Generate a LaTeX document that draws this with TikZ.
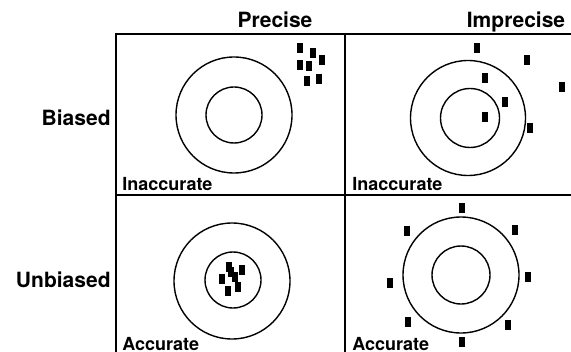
\documentclass[tikz,border=0pt]{standalone}
\usepackage{fontspec}
\setmainfont{TeX Gyre Heros}
\usepackage{tikz}
\usetikzlibrary{positioning}
\tikzset{
  wire/.style={line width=1.1pt,draw=black},
  ring/.style={circle,draw=black,line width=0.7pt,inner sep=0pt},
  shot/.style={rectangle,fill=black,inner sep=0pt,minimum width=3.4pt,minimum height=5.4pt},
  head/.style={font=\fontsize{10.5}{12}\selectfont\bfseries,inner sep=0pt},
  side/.style={font=\fontsize{10.5}{12}\selectfont\bfseries,inner sep=0pt,anchor=base east},
  corner/.style={font=\fontsize{9}{11}\selectfont\bfseries,inner sep=0pt,anchor=base west}
}
\begin{document}
\begin{tikzpicture}[x=0.5pt,y=-0.5pt]
  \useasboundingbox (0,0) rectangle (571,352);
  % grid
  \coordinate (tl) at (116,34); \coordinate (tr) at (571,34);
  \coordinate (bl) at (116,352); \coordinate (tm) at (345,34);
  \coordinate (bm) at (345,352); \coordinate (ml) at (116,195);
  \coordinate (mr) at (571,195);
  \draw[wire] (tr)--(tl)--(bl); \draw[wire] (tm)--(bm); \draw[wire] (ml)--(mr);
  % headings
  \node[head,anchor=base] (precise) at (275,28) {Precise};
  \node[head,anchor=base] (imprecise) at (516,28) {Imprecise};
  \node[side] (biased) at (111,126) {Biased};
  \node[side] (unbiased) at (111,287) {Unbiased};
  % targets
  \node[ring,minimum size=58pt] (pbOut) at (234,115) {};
  \node[ring,minimum size=28pt] (pbIn) at (234,115) {};
  \node[ring,minimum size=57.5pt] (ibOut) at (468,118) {};
  \node[ring,minimum size=29.5pt] (ibIn) at (470,118) {};
  \node[ring,minimum size=58pt] (puOut) at (232,281) {};
  \node[ring,minimum size=28pt] (puIn) at (233,280) {};
  \node[ring,minimum size=58pt] (iuOut) at (461,275) {};
  \node[ring,minimum size=29pt] (iuIn) at (461,275) {};
  % shots
  \foreach \p [count=\i] in {(300,48),(313,53),(300,65),(309,66),(322,60),(307,81),(319,79)}
    \node[shot] (pb-\i) at \p {};
  \foreach \p [count=\i] in {(477,48),(527,60),(485,78),(562,87),(505,102),(485,117),(530,128)}
    \node[shot] (ib-\i) at \p {};
  \foreach \p [count=\i] in {(229,267),(242,270),(222,279),(235,277),(231,272),(228,291),(238,287)}
    \node[shot] (pu-\i) at \p {};
  \foreach \p [count=\i] in {(462,208),(407,231),(515,230),(390,283),(528,277),(408,322),(508,325),(462,342)}
    \node[shot] (iu-\i) at \p {};
  % corner labels
  \node[corner] (pbTag) at (122,191) {Inaccurate};
  \node[corner] (ibTag) at (352,191) {Inaccurate};
  \node[corner] (puTag) at (122,350) {Accurate};
  \node[corner] (iuTag) at (352,350) {Accurate};
\end{tikzpicture}
\end{document}
